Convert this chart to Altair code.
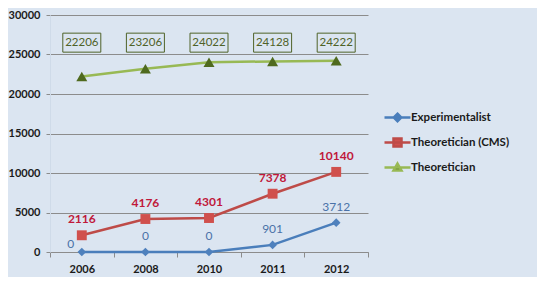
import altair as alt
import pandas as pd

years = ["2006", "2008", "2010", "2011", "2012"]
series_names = ["Experimentalist", "Theoretician (CMS)", "Theoretician"]
experimentalist = [0, 0, 0, 901, 3712]
theoretician_cms = [2116, 4176, 4301, 7378, 10140]
theoretician = [22206, 23206, 24022, 24128, 24222]
y_ticks = [0, 5000, 10000, 15000, 20000, 25000, 30000]
label_row_value = 26500

line_colors = ["#4a7ebb", "#be4b48", "#98b954"]
marker_colors = ["#4f81bd", "#d0504d", "#4f6a1e"]
marker_shapes = ["diamond", "square", "triangle-up"]
marker_sizes = [75, 121, 90]
legend_paths = [
    "M-2.6,0L2.6,0M0,-0.75L0.75,0L0,0.75L-0.75,0Z",
    "M-2.6,0L2.6,0M-0.8,-0.8L0.8,-0.8L0.8,0.8L-0.8,0.8Z",
    "M-2.6,0L2.6,0M0,-0.8L0.8,0.6L-0.8,0.6Z",
]

rows = []
for name, vals in zip(series_names, [experimentalist, theoretician_cms, theoretician]):
    for yr, v in zip(years, vals):
        rows.append({"year": yr, "series": name, "value": v})
df = pd.DataFrame(rows)

FONT = "Lato"

x_enc = alt.X(
    "year:N",
    sort=years,
    scale=alt.Scale(paddingInner=0, paddingOuter=0),
    axis=alt.Axis(
        title=None,
        tickBand="extent",
        labelAngle=0,
        labelFont=FONT,
        labelFontSize=11,
        labelFontWeight="bold",
        labelColor="#1a1a1a",
        labelPadding=6,
        domainColor="#8c8c8c",
        tickColor="#8c8c8c",
        tickSize=5,
        grid=False,
    ),
)
y_scale = alt.Scale(domain=[0, 30000], nice=False)
y_axis = alt.Axis(
    title=None,
    values=y_ticks,
    format="d",
    labelFont=FONT,
    labelFontSize=11,
    labelFontWeight="bold",
    labelColor="#1a1a1a",
    labelPadding=6,
    labelOverlap=False,
    tickSize=4,
    tickColor="#8c8c8c",
    domainColor="#cfdbe9",
    gridColor="#8c8c8c",
    gridWidth=1,
)
y_enc = alt.Y("value:Q", scale=y_scale, axis=y_axis)
y_row = alt.YDatum(label_row_value, type="quantitative", scale=y_scale, axis=y_axis)

base = alt.Chart(df)

lines = base.mark_line(strokeWidth=2.5).encode(
    x=x_enc,
    y=y_enc,
    color=alt.Color("series:N", scale=alt.Scale(domain=series_names, range=line_colors), legend=None),
)

points = base.mark_point(filled=True, opacity=1).encode(
    x=x_enc,
    y=y_enc,
    color=alt.Color("series:N", scale=alt.Scale(domain=series_names, range=marker_colors), legend=None),
    shape=alt.Shape("series:N", scale=alt.Scale(domain=series_names, range=marker_shapes), legend=None),
    size=alt.Size("series:N", scale=alt.Scale(domain=series_names, range=marker_sizes), legend=None),
)

red_labels = base.transform_filter(alt.datum.series == "Theoretician (CMS)").mark_text(
    dy=-16, font=FONT, fontSize=12, fontWeight="bold", color="#c0183a"
).encode(x=x_enc, y=y_enc, text=alt.Text("value:Q", format="d"))

blue_labels = base.transform_filter(
    (alt.datum.series == "Experimentalist") & (alt.datum.year != "2006")
).mark_text(dy=-16, font=FONT, fontSize=12, color="#4a72a8").encode(
    x=x_enc, y=y_enc, text=alt.Text("value:Q", format="d")
)
blue_first = base.transform_filter(
    (alt.datum.series == "Experimentalist") & (alt.datum.year == "2006")
).mark_text(dx=-11, dy=-8, font=FONT, fontSize=12, color="#4a72a8").encode(
    x=x_enc, y=y_enc, text=alt.Text("value:Q", format="d")
)

green = base.transform_filter(alt.datum.series == "Theoretician")
green_boxes = green.mark_point(
    shape="M-1,-0.5L1,-0.5L1,0.5L-1,0.5Z", size=1444, filled=False,
    stroke="#4f6228", strokeWidth=1, opacity=1
).encode(x=x_enc, y=y_row)
green_labels = green.mark_text(font=FONT, fontSize=11.5, color="#4f6228").encode(
    x=x_enc, y=y_row, text=alt.Text("value:Q", format="d")
)

leg = alt.Legend(
    title=None,
    orient="none",
    legendX=341,
    legendY=96,
    symbolSize=100,
    symbolStrokeWidth=2.5,
    labelOffset=7,
    labelFont=FONT,
    labelFontSize=11.5,
    labelFontWeight="bold",
    labelColor="#1a1a1a",
    rowPadding=6,
)
legend_layer = alt.Chart(df).transform_filter("false").mark_point(filled=True, opacity=1).encode(
    fill=alt.Fill("series:N", scale=alt.Scale(domain=series_names, range=marker_colors), legend=leg),
    stroke=alt.Stroke("series:N", scale=alt.Scale(domain=series_names, range=line_colors), legend=leg),
    shape=alt.Shape("series:N", scale=alt.Scale(domain=series_names, range=legend_paths), legend=leg),
)

chart = (
    alt.layer(lines, points, red_labels, blue_labels, blue_first, green_boxes, green_labels, legend_layer)
    .resolve_scale(color="independent", fill="independent", stroke="independent",
                   shape="independent", size="independent")
    .properties(
        width=318,
        height=237,
        background="#dbe5f1",
        autosize=alt.AutoSizeParams(type="none"),
        padding={"left": 42, "top": 7, "right": 169, "bottom": 25},
    )
    .configure_view(fill="#b9cde5", stroke="transparent")
)

chart.save("out.html", embed_options={"renderer": "svg", "actions": False})
